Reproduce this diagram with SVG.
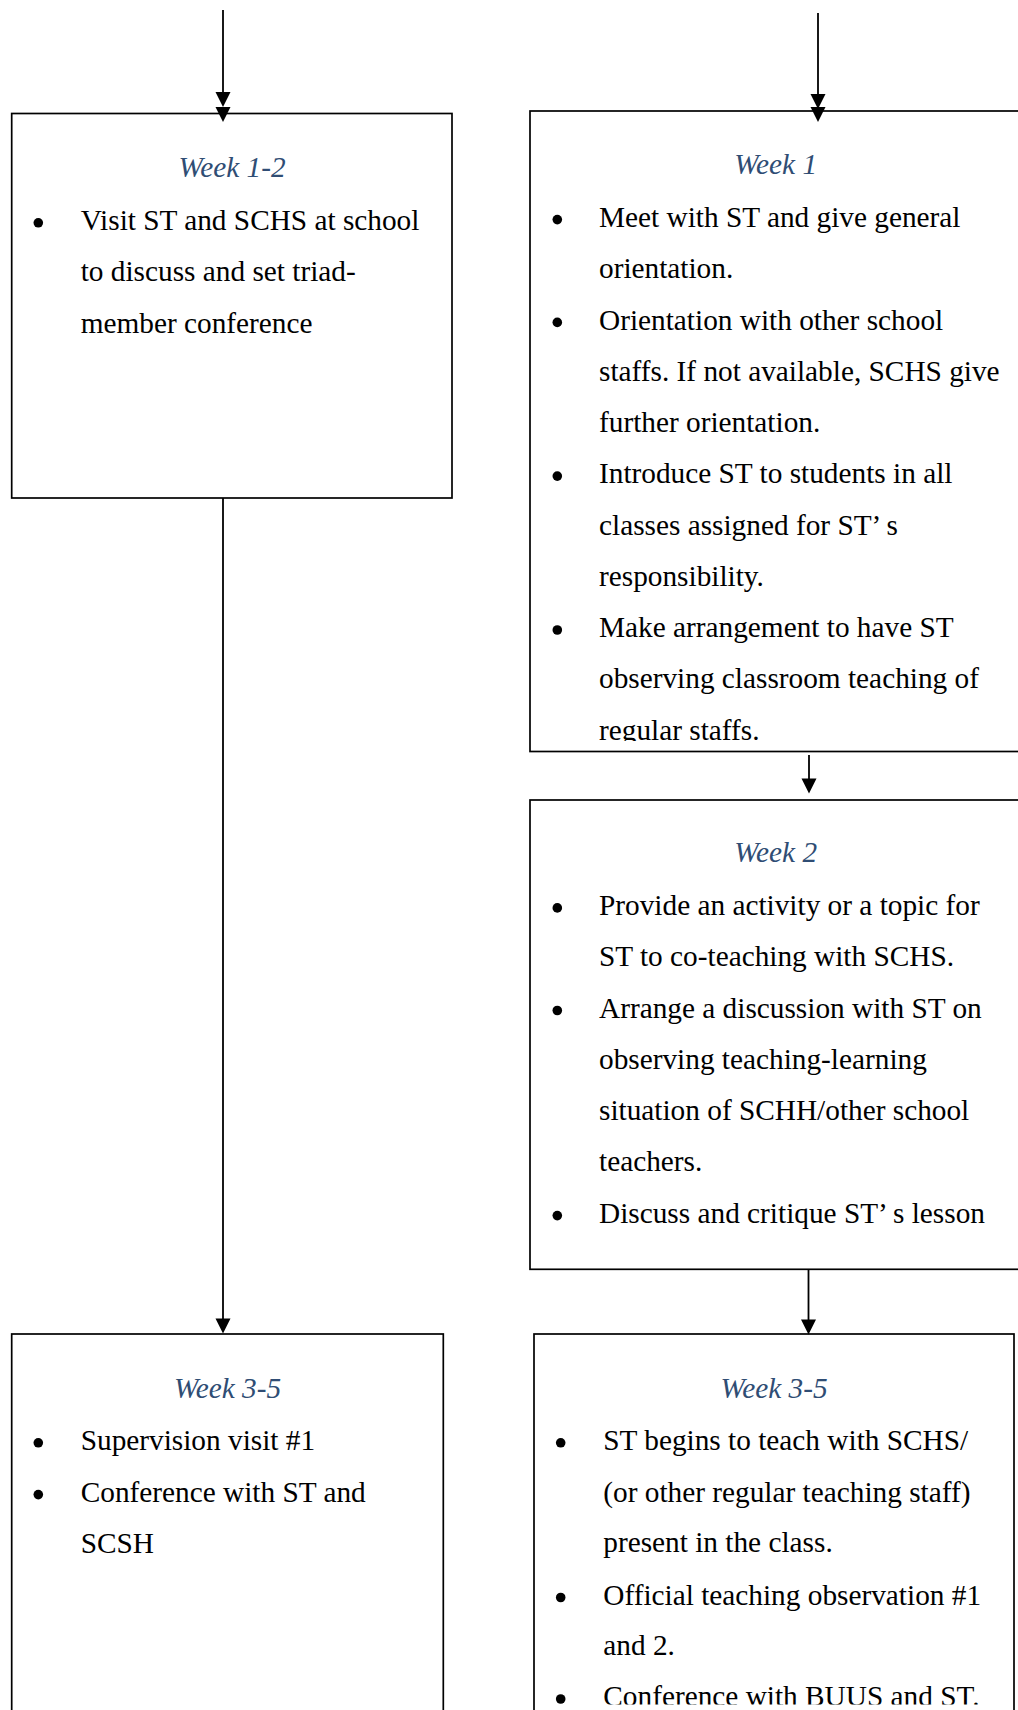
<svg xmlns="http://www.w3.org/2000/svg" xmlns:xlink="http://www.w3.org/1999/xlink" width="1018" height="1710" viewBox="0 0 1018 1710">
  <style>
    .box { fill: #ffffff; stroke: #000000; stroke-width: 1.7; }
    .title { font-family: "Liberation Serif", "Times New Roman", serif; font-style: italic; font-size: 29.3px; fill: #2f4d74; text-anchor: middle; }
    .body { font-family: "Liberation Serif", "Times New Roman", serif; font-size: 29.3px; fill: #000000; }
    .dot { fill: #000000; }
    .wire { stroke: #000000; stroke-width: 1.8; fill: none; }
    .head { fill: #000000; }
  </style>
  <defs>
    <!-- arrowhead with its tip at the origin, pointing down -->
    <path id="ah" d="M-7.5,-15 L7.5,-15 L0,0 Z"/>
    <clipPath id="clip-week1"><rect x="530" y="111" width="492" height="630"/></clipPath>
    <clipPath id="clip-week35r"><rect x="534" y="1334" width="480" height="370.5"/></clipPath>
  </defs>

  <rect x="0" y="0" width="1018" height="1710" fill="#ffffff"/>

  <!-- Left column, weeks 1-2 -->
  <g id="node-left-week1-2">
    <rect class="box" x="11.7" y="113.5" width="440.3" height="384.5"/>
    <text class="title" x="232" y="176.7">Week 1-2</text>
    <circle class="dot" cx="38.3" cy="222.8" r="4.8"/>
    <text class="body" x="80.7" y="230">Visit ST and SCHS at school</text>
    <text class="body" x="80.7" y="281.4">to discuss and set triad-</text>
    <text class="body" x="80.7" y="332.7">member conference</text>
  </g>

  <!-- Right column, week 1 -->
  <g id="node-right-week1">
    <rect class="box" x="530" y="111" width="491.5" height="640.5"/>
    <text class="title" x="775.7" y="174">Week 1</text>
    <g clip-path="url(#clip-week1)">
      <circle class="dot" cx="557.3" cy="219.6" r="4.8"/>
      <text class="body" x="599" y="226.7">Meet with ST and give general</text>
      <text class="body" x="599" y="277.9">orientation.</text>
      <circle class="dot" cx="557.3" cy="322.4" r="4.8"/>
      <text class="body" x="599" y="329.5">Orientation with other school</text>
      <text class="body" x="599" y="380.7">staffs. If not available, SCHS give</text>
      <text class="body" x="599" y="432">further orientation.</text>
      <circle class="dot" cx="557.3" cy="476.1" r="4.8"/>
      <text class="body" x="599" y="483.2">Introduce ST to students in all</text>
      <text class="body" x="599" y="534.5">classes assigned for ST’ s</text>
      <text class="body" x="599" y="585.8">responsibility.</text>
      <circle class="dot" cx="557.3" cy="630" r="4.8"/>
      <text class="body" x="599" y="637.1">Make arrangement to have ST</text>
      <text class="body" x="599" y="688.3">observing classroom teaching of</text>
      <text class="body" x="599" y="739.5">regular staffs.</text>
    </g>
  </g>

  <!-- Right column, week 2 -->
  <g id="node-right-week2">
    <rect class="box" x="530" y="800" width="491.5" height="469.3"/>
    <text class="title" x="775.7" y="861.7">Week 2</text>
    <circle class="dot" cx="557.3" cy="907.9" r="4.8"/>
    <text class="body" x="599" y="915">Provide an activity or a topic for</text>
    <text class="body" x="599" y="966.3">ST to co-teaching with SCHS.</text>
    <circle class="dot" cx="557.3" cy="1010.5" r="4.8"/>
    <text class="body" x="599" y="1017.6">Arrange a discussion with ST on</text>
    <text class="body" x="599" y="1068.9">observing teaching-learning</text>
    <text class="body" x="599" y="1120.1">situation of SCHH/other school</text>
    <text class="body" x="599" y="1171.4">teachers.</text>
    <circle class="dot" cx="557.3" cy="1215.6" r="4.8"/>
    <text class="body" x="599" y="1222.7">Discuss and critique ST’ s lesson</text>
  </g>

  <!-- Left column, weeks 3-5 -->
  <g id="node-left-week3-5">
    <rect class="box" x="11.7" y="1334" width="431.6" height="400"/>
    <text class="title" x="227.5" y="1398.3">Week 3-5</text>
    <circle class="dot" cx="38.3" cy="1442.8" r="4.8"/>
    <text class="body" x="80.7" y="1450">Supervision visit #1</text>
    <circle class="dot" cx="38.3" cy="1494.6" r="4.8"/>
    <text class="body" x="80.7" y="1501.7">Conference with ST and</text>
    <text class="body" x="80.7" y="1553">SCSH</text>
  </g>

  <!-- Right column, weeks 3-5 -->
  <g id="node-right-week3-5">
    <rect class="box" x="534" y="1334" width="480" height="400"/>
    <text class="title" x="774" y="1398.3">Week 3-5</text>
    <g clip-path="url(#clip-week35r)">
      <circle class="dot" cx="560.7" cy="1442.8" r="4.8"/>
      <text class="body" x="603.3" y="1450">ST begins to teach with SCHS/</text>
      <text class="body" x="603.3" y="1501.5">(or other regular teaching staff)</text>
      <text class="body" x="603.3" y="1552.3">present in the class.</text>
      <circle class="dot" cx="560.7" cy="1597.5" r="4.8"/>
      <text class="body" x="603.3" y="1604.6">Official teaching observation #1</text>
      <text class="body" x="603.3" y="1655.4">and 2.</text>
      <circle class="dot" cx="560.7" cy="1699" r="4.8"/>
      <text class="body" x="603.3" y="1706.4">Conference with BUUS and ST.</text>
    </g>
  </g>

  <!-- Connectors -->
  <g id="connectors">
    <!-- incoming, left column (double head) -->
    <line class="wire" x1="223" y1="10" x2="223" y2="100"/>
    <use xlink:href="#ah" href="#ah" class="head" x="223" y="107"/>
    <use xlink:href="#ah" href="#ah" class="head" x="223" y="122"/>
    <!-- incoming, right column (double head) -->
    <line class="wire" x1="818" y1="13" x2="818" y2="100"/>
    <use xlink:href="#ah" href="#ah" class="head" x="818" y="109"/>
    <use xlink:href="#ah" href="#ah" class="head" x="818" y="122"/>
    <!-- weeks 1-2 to weeks 3-5, left -->
    <line class="wire" x1="223" y1="498" x2="223" y2="1320"/>
    <use xlink:href="#ah" href="#ah" class="head" x="223" y="1333.5"/>
    <!-- week 1 to week 2, right -->
    <line class="wire" x1="809" y1="755" x2="809" y2="780"/>
    <use xlink:href="#ah" href="#ah" class="head" x="809" y="793.5"/>
    <!-- week 2 to weeks 3-5, right -->
    <line class="wire" x1="808.5" y1="1269.3" x2="808.5" y2="1321"/>
    <use xlink:href="#ah" href="#ah" class="head" x="808.5" y="1334.5"/>
  </g>
</svg>
